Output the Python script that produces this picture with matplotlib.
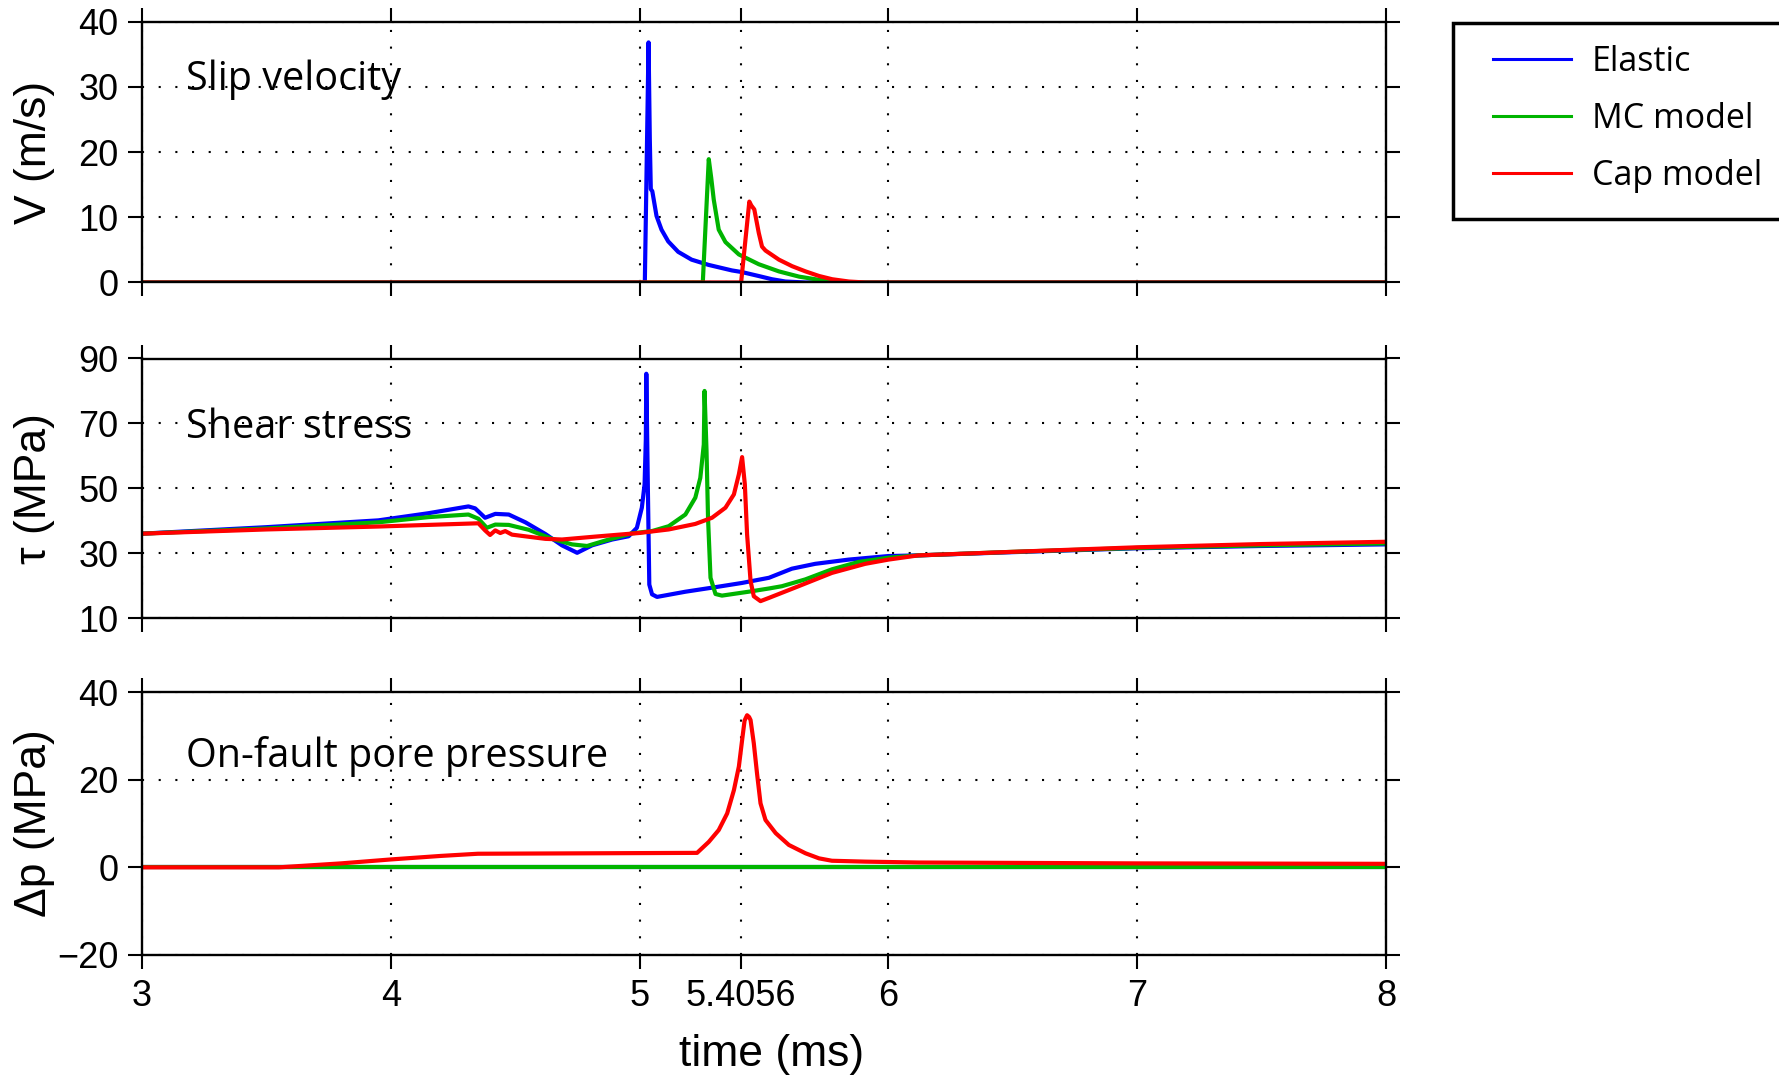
import matplotlib
matplotlib.use('Agg')
import matplotlib.pyplot as plt
from matplotlib.patches import Rectangle

# ---- data (time in ms) ----
# slip velocity V (m/s)
t_v_elastic = [3.0, 5.021, 5.030, 5.036, 5.041, 5.045, 5.051, 5.068, 5.088, 5.115,
               5.155, 5.209, 5.277, 5.371, 5.411, 5.478, 5.532, 5.586, 5.667, 8.0]
v_elastic = [0, 0, 22, 36.8, 22, 14.3, 14.0, 10.2, 8.1, 6.3,
             4.7, 3.5, 2.7, 1.85, 1.6, 1.0, 0.5, 0.15, 0, 0]
t_v_mc = [3.0, 5.254, 5.278, 5.288, 5.298, 5.318, 5.345, 5.399, 5.479, 5.56,
          5.641, 5.722, 5.802, 5.883, 8.0]
v_mc = [0, 0, 18.9, 16.0, 12.7, 8.1, 6.2, 4.3, 2.8, 1.7,
        0.9, 0.4, 0.1, 0, 0]
t_v_cap = [3.0, 5.408, 5.441, 5.449, 5.461, 5.479, 5.492, 5.506, 5.56, 5.613,
           5.667, 5.721, 5.774, 5.841, 5.908, 8.0]
v_cap = [0, 0, 12.4, 11.8, 11.2, 7.6, 5.5, 4.9, 3.5, 2.5,
         1.7, 1.0, 0.5, 0.15, 0, 0]

# shear stress tau (MPa)
t_s_elastic = [3.0, 3.5, 3.95, 4.151, 4.312, 4.339, 4.379, 4.420, 4.474, 4.541,
               4.621, 4.688, 4.749, 4.809, 4.890, 4.956, 4.989, 5.009, 5.020, 5.025,
               5.027, 5.033, 5.039, 5.050, 5.070, 5.184, 5.304, 5.411, 5.520, 5.612,
               5.706, 5.840, 6.0, 6.12, 6.5, 7.0, 7.5, 8.0]
s_elastic = [36.0, 38.0, 40.1, 42.3, 44.4, 43.8, 40.9, 42.1, 41.9, 39.5,
             35.9, 32.4, 30.1, 32.4, 34.2, 35.2, 37.8, 44.0, 51.2, 65.0,
             85.3, 51.2, 20.3, 17.3, 16.5, 18.1, 19.5, 20.8, 22.4, 25.2,
             26.7, 28.0, 29.1, 29.3, 30.3, 31.5, 32.2, 32.7]
t_s_mc = [3.0, 3.5, 3.95, 4.151, 4.312, 4.352, 4.386, 4.420, 4.474, 4.554,
          4.648, 4.728, 4.789, 4.863, 4.970, 5.050, 5.117, 5.184, 5.224, 5.244,
          5.258, 5.261, 5.269, 5.275, 5.285, 5.305, 5.331, 5.438, 5.520, 5.572,
          5.666, 5.773, 5.881, 6.001, 6.12, 6.5, 7.0, 7.5, 8.0]
s_mc = [36.0, 37.6, 39.5, 41.1, 41.9, 40.6, 37.8, 38.8, 38.7, 37.2,
        34.4, 32.7, 32.2, 33.9, 36.1, 36.8, 38.3, 41.9, 47.1, 53.2,
        63.5, 80.0, 61.5, 40.9, 22.4, 17.4, 16.9, 18.1, 19.1, 19.8,
        21.9, 25.0, 27.3, 28.6, 29.3, 30.4, 31.6, 32.4, 33.0]
t_s_cap = [3.0, 3.5, 3.95, 4.151, 4.352, 4.379, 4.399, 4.420, 4.440, 4.460,
           4.487, 4.621, 4.688, 4.823, 4.997, 5.117, 5.224, 5.291, 5.345, 5.379,
           5.399, 5.412, 5.423, 5.432, 5.446, 5.459, 5.486, 5.520, 5.639, 5.773,
           5.907, 6.0, 6.12, 6.5, 7.0, 7.5, 8.0]
s_cap = [36.0, 37.3, 38.2, 38.7, 39.2, 37.0, 35.6, 37.0, 36.2, 36.8,
         35.7, 34.4, 34.2, 35.1, 36.2, 37.3, 39.0, 40.9, 44.0, 48.1,
         54.3, 59.6, 51.2, 35.8, 21.4, 16.7, 15.2, 16.2, 19.8, 23.9,
         26.7, 28.0, 29.3, 30.4, 31.8, 32.8, 33.5]

# on-fault pore pressure change (MPa)
t_p_elastic = [3.0, 8.0]
p_elastic = [0, 0]
t_p_mc = [3.0, 8.0]
p_mc = [0, 0]
t_p_cap = [3.0, 3.55, 3.8, 4.0, 4.2, 4.35, 5.231, 5.278, 5.318, 5.352,
           5.379, 5.399, 5.412, 5.422, 5.432, 5.440, 5.446, 5.459, 5.472, 5.486,
           5.506, 5.547, 5.600, 5.667, 5.721, 5.773, 5.907, 6.122, 7.0, 8.0]
p_cap = [0, 0, 0.9, 1.8, 2.6, 3.1, 3.3, 5.8, 8.5, 12.3,
         17.6, 23.0, 29.0, 33.5, 34.7, 34.3, 33.6, 28.3, 21.4, 14.6,
         10.8, 7.8, 5.1, 3.2, 2.05, 1.5, 1.3, 1.1, 0.9, 0.8]

x_ticks = [3, 4, 5, 5.4056, 6, 7, 8]
x_ticklabels = ['3', '4', '5', '5.4056', '6', '7', '8']

series_names = ['Elastic', 'MC model', 'Cap model']
series_colors = ['#0000ff', '#00b400', '#ff0000']

panels = [
    dict(data=[(t_v_elastic, v_elastic), (t_v_mc, v_mc), (t_v_cap, v_cap)],
         ylim=(0, 40), yticks=[0, 10, 20, 30, 40], ylabel='V (m/s)',
         title='Slip velocity', title_y=0.7375),
    dict(data=[(t_s_elastic, s_elastic), (t_s_mc, s_mc), (t_s_cap, s_cap)],
         ylim=(10, 90), yticks=[10, 30, 50, 70, 90], ylabel='τ (MPa)',
         title='Shear stress', title_y=0.695),
    dict(data=[(t_p_elastic, p_elastic), (t_p_mc, p_mc), (t_p_cap, p_cap)],
         ylim=(-20, 40), yticks=[-20, 0, 20, 40], ylabel='Δp (MPa)',
         title='On-fault pore pressure', title_y=0.716),
]

plt.rcParams['font.family'] = ['Liberation Sans', 'DejaVu Sans']
text_font = ['Open Sans', 'DejaVu Sans']

W, H = 1779, 1075
fig = plt.figure(figsize=(W / 100, H / 100), dpi=100)

# axes boxes in pixels: (left, top, right, bottom)
boxes = [(142, 21.5, 1386, 282.5), (142, 358.5, 1386, 618), (142, 692, 1386, 955)]

for i, (p, b) in enumerate(zip(panels, boxes)):
    l, t, r, bt = b
    ax = fig.add_axes([l / W, 1 - bt / H, (r - l) / W, (bt - t) / H])
    lines = []
    for (tt, yy), c, name in zip(p['data'], series_colors, series_names):
        ln, = ax.plot(tt, yy, color=c, lw=3.0, label=name)
        lines.append(ln)
    ax.set_xlim(3, 8)
    ax.set_ylim(*p['ylim'])
    ax.set_xticks(x_ticks)
    ax.set_yticks(p['yticks'])
    if i == 2:
        ax.set_xticklabels(x_ticklabels)
        ax.set_xlabel('time (ms)', fontsize=32)
        ax.xaxis.set_label_coords(0.506, -0.300)
    else:
        ax.tick_params(labelbottom=False)
    ax.set_yticklabels([('\u2212' + str(-v)) if v < 0 else str(v) for v in p['yticks']])
    ax.set_ylabel(p['ylabel'], fontsize=32)
    ax.yaxis.set_label_coords(-0.070, 0.5)
    ax.tick_params(direction='out', top=True, right=True, length=10, width=1.5,
                   labelsize=26, pad=7)
    for s in ax.spines.values():
        s.set_linewidth(1.7)
    ax.grid(True, color='black', linestyle=(0, (1, 7)), linewidth=1.5)
    ax.text(0.035, p['title_y'], p['title'], transform=ax.transAxes, fontsize=28.5,
            family=text_font, va='baseline', ha='left')

# legend box runs off the right edge, as in the original
fig.add_artist(Rectangle((1453 / W, 1 - 219 / H), 400 / W, 196 / H,
                         transform=fig.transFigure, facecolor='white',
                         edgecolor='black', linewidth=2.5, zorder=1))
leg = fig.legend(lines, series_names, loc='center left',
                 bbox_to_anchor=(1493 / W, 1 - 119 / H), borderaxespad=0,
                 frameon=False, borderpad=0,
                 prop={'family': text_font, 'size': 24.5},
                 handlelength=2.3, handletextpad=0.6, labelspacing=0.67)
leg.set_zorder(2)
for lh in leg.get_lines():
    lh.set_linewidth(2.2)

fig.savefig('out.png', dpi=100, facecolor='white')
